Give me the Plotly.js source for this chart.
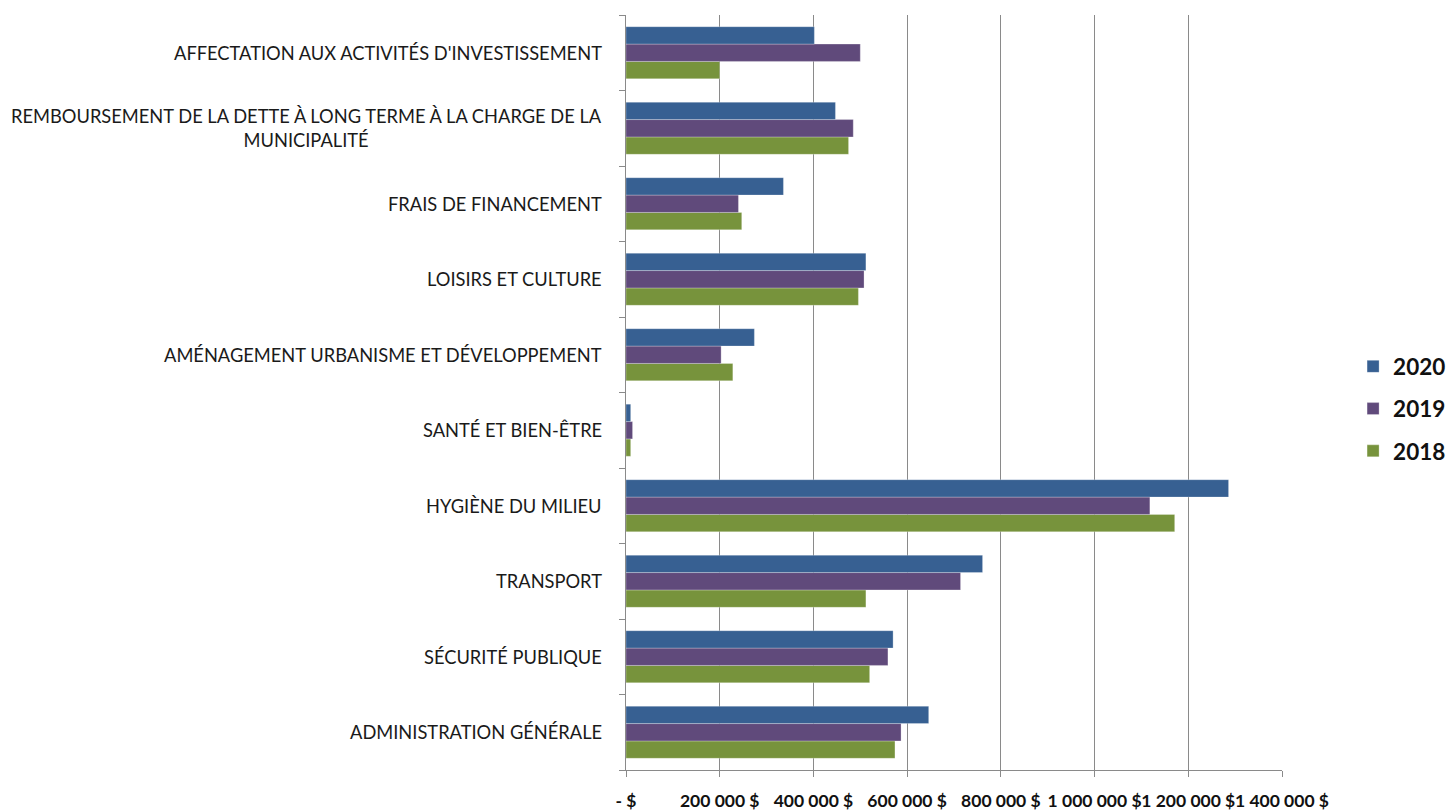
<!DOCTYPE html>
<html>
<head>
<meta charset="utf-8">
<script src="https://cdn.plot.ly/plotly-3.0.1.min.js"></script>
<style>html,body{margin:0;padding:0;background:#fff;}#chart{width:1447px;height:811px;}</style>
</head>
<body>
<div id="chart"></div>
<script>
// Categories, bottom to top
const categories = [
  "ADMINISTRATION GÉNÉRALE",
  "SÉCURITÉ PUBLIQUE",
  "TRANSPORT",
  "HYGIÈNE DU MILIEU",
  "SANTÉ ET BIEN-ÊTRE",
  "AMÉNAGEMENT URBANISME ET DÉVELOPPEMENT",
  "LOISIRS ET CULTURE",
  "FRAIS DE FINANCEMENT",
  "REMBOURSEMENT DE LA DETTE À LONG TERME À LA CHARGE DE LA<br>MUNICIPALITÉ",
  "AFFECTATION AUX ACTIVITÉS D'INVESTISSEMENT"
];
const values2018 = [574000, 520000, 512000, 1171000, 10000, 228000, 496000, 247000, 475000, 200000];
const values2019 = [587000, 559000, 714000, 1118000, 14000, 203000, 508000, 240000, 485000, 500000];
const values2020 = [646000, 570000, 761000, 1286000, 10000, 274000, 512000, 336000, 447000, 402000];
const seriesNames = ["2018", "2019", "2020"];
const tickVals = [0, 200000, 400000, 600000, 800000, 1000000, 1200000, 1400000];
const tickText = ["- $", "200 000 $", "400 000 $", "600 000 $", "800 000 $", "1 000 000 $", "1 200 000 $", "1 400 000 $"];

const colors = ["#77933C", "#604A7B", "#376092"];
const seriesValues = [values2018, values2019, values2020];

const traces = seriesNames.map((name, i) => ({
  type: "bar",
  orientation: "h",
  name: name,
  y: categories,
  x: seriesValues[i],
  legendgroup: "g" + name,
  legendrank: 3 - i,
  marker: {color: colors[i], line: {color: "rgba(255,255,255,0.35)", width: 0.8}},
  hoverinfo: "x+name"
}));

const annotations = categories.map(c => ({
  x: 0, xref: "x", y: c, yref: "y",
  text: c, showarrow: false,
  xanchor: "right", xshift: -22, align: "center",
  font: {family: "Lato, 'Open Sans', sans-serif", size: 18.3, color: "#1a1a1a"}
}));

const layout = {
  width: 1447, height: 811,
  margin: {l: 626, r: 165, t: 15, b: 41, pad: 0, autoexpand: false},
  paper_bgcolor: "#ffffff", plot_bgcolor: "#ffffff",
  barmode: "group",
  bargap: 0.31, bargroupgap: 0,
  showlegend: true,
  legend: {
    xref: "container", yref: "container",
    x: 0.9351, xanchor: "left", y: 0.496, yanchor: "middle",
    traceorder: "grouped", tracegroupgap: 10,
    font: {family: "Lato, 'Open Sans', sans-serif", size: 22.5, color: "#111", weight: "bold"},
    itemwidth: 30
  },
  xaxis: {
    range: [0, 1400000],
    tickvals: tickVals, ticktext: tickText,
    tickangle: 0,
    showgrid: true, gridcolor: "#8a8a8a", gridwidth: 1,
    zeroline: false,
    showline: true, linecolor: "#8a8a8a", linewidth: 1,
    ticks: "outside", ticklen: 6, tickcolor: "#8a8a8a",
    ticklabelstandoff: 9,
    tickfont: {family: "Lato, 'Open Sans', sans-serif", size: 17.5, color: "#111", weight: "bold"},
    fixedrange: true
  },
  yaxis: {
    type: "category",
    showticklabels: false,
    showgrid: false, zeroline: false,
    showline: true, linecolor: "#8a8a8a", linewidth: 1,
    ticks: "outside", ticklen: 6, tickcolor: "#8a8a8a",
    tickson: "boundaries",
    fixedrange: true
  },
  annotations: annotations
};

Plotly.newPlot("chart", traces, layout, {displayModeBar: false, staticPlot: true});
</script>
</body>
</html>
